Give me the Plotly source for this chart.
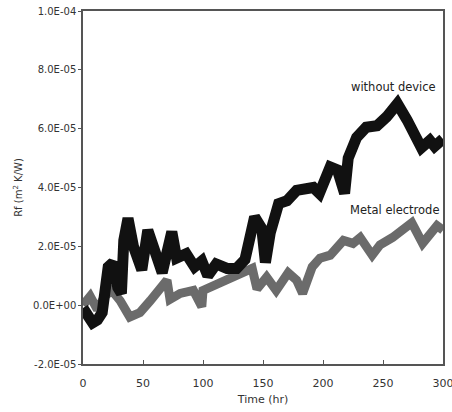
import plotly.graph_objects as go

# Without device (black) - time (hr), Rf (m2K/W)
t_without = [0, 4, 8, 12, 16, 21, 25, 29, 32, 34, 37.5, 42, 49, 54, 58, 66, 74, 78, 86, 93,
             99, 104, 111, 120, 128, 135, 143, 149, 152, 156, 163, 170, 178, 185, 192, 197,
             206, 212, 218, 221, 228, 236, 245, 253, 262, 270, 275, 282, 289, 293, 300]
rf_without = [-0.1e-5, -0.4e-5, -0.6e-5, -0.5e-5, -0.25e-5, 1.3e-5, 1.45e-5, 0.6e-5, 0.4e-5,
              2.2e-5, 2.95e-5, 2.0e-5, 1.2e-5, 2.55e-5, 2.0e-5, 1.1e-5, 2.5e-5, 1.6e-5,
              1.75e-5, 1.3e-5, 1.5e-5, 1.0e-5, 1.4e-5, 1.25e-5, 1.25e-5, 1.55e-5, 3.0e-5,
              2.6e-5, 1.45e-5, 2.45e-5, 3.45e-5, 3.55e-5, 3.9e-5, 3.95e-5, 4.0e-5, 3.8e-5,
              4.7e-5, 4.6e-5, 3.8e-5, 5.0e-5, 5.7e-5, 6.05e-5, 6.1e-5, 6.4e-5, 6.85e-5,
              6.3e-5, 5.85e-5, 5.35e-5, 5.6e-5, 5.4e-5, 5.65e-5]

# Metal electrode (gray)
t_metal = [0, 6, 12, 18, 24, 31, 39, 47.5, 56, 64, 70, 72.5, 81, 92, 99, 100, 114, 122.5,
           136.5, 141, 145, 153, 161, 171, 178, 183, 191, 197.5, 206, 217, 225, 231, 241,
           247.5, 258, 274, 283, 295, 300]
rf_metal = [0.0, 0.3e-5, -0.15e-5, 0.3e-5, 0.5e-5, 0.15e-5, -0.4e-5, -0.25e-5, 0.15e-5,
            0.6e-5, 0.85e-5, 0.2e-5, 0.4e-5, 0.5e-5, -0.05e-5, 0.5e-5, 0.75e-5, 0.85e-5,
            1.1e-5, 1.25e-5, 0.55e-5, 0.95e-5, 0.5e-5, 1.1e-5, 0.85e-5, 0.4e-5, 1.3e-5,
            1.6e-5, 1.7e-5, 2.2e-5, 2.1e-5, 2.3e-5, 1.7e-5, 2.05e-5, 2.3e-5, 2.8e-5,
            2.1e-5, 2.7e-5, 2.55e-5]

y_tickvals = [-2e-5, 0, 2e-5, 4e-5, 6e-5, 8e-5, 1e-4]
y_ticktext = ["-2.0E-05", "0.0E+00", "2.0E-05", "4.0E-05", "6.0E-05", "8.0E-05", "1.0E-04"]
x_tickvals = [0, 50, 100, 150, 200, 250, 300]

font = "DejaVu Sans, Liberation Sans, sans-serif"

fig = go.Figure()
fig.add_trace(go.Scatter(x=t_metal, y=rf_metal, mode="lines",
                         line=dict(color="#6b6b6b", width=9), showlegend=False))
fig.add_trace(go.Scatter(x=t_without, y=rf_without, mode="lines",
                         line=dict(color="#111111", width=11), showlegend=False))

fig.add_annotation(x=296, y=7.4e-5, text="without device", showarrow=False,
                   xanchor="right", yanchor="middle", font=dict(size=11.5, color="#222", family=font))
fig.add_annotation(x=298, y=3.23e-5, text="Metal electrode", showarrow=False,
                   xanchor="right", yanchor="middle", font=dict(size=11.5, color="#222", family=font))

fig.update_layout(
    width=452, height=412,
    margin=dict(l=83, r=9, t=11, b=48),
    paper_bgcolor="white", plot_bgcolor="white",
    font=dict(family=font, size=10, color="#333"),
    xaxis=dict(range=[0, 300], tickvals=x_tickvals, ticks="inside", ticklen=4,
               tickcolor="#555", showline=True, linecolor="#555", linewidth=1.5,
               mirror=True, showgrid=False, zeroline=False, ticklabelstandoff=8,
               automargin=False, ticklabeloverflow="allow",
               title=dict(text="Time (hr)", font=dict(size=11), standoff=6),
               tickfont=dict(size=11)),
    yaxis=dict(range=[-2e-5, 1e-4], tickvals=y_tickvals, ticktext=y_ticktext,
               ticks="outside", ticklen=3, tickcolor="#555",
               showline=True, linecolor="#555", linewidth=1.5, mirror=True,
               showgrid=False, zeroline=False, automargin=False,
               ticklabeloverflow="allow",
               title=dict(text="Rf (m<sup>2</sup> K/W)", font=dict(size=10), standoff=8),
               tickfont=dict(size=10)),
)

fig.write_html("out.html")
